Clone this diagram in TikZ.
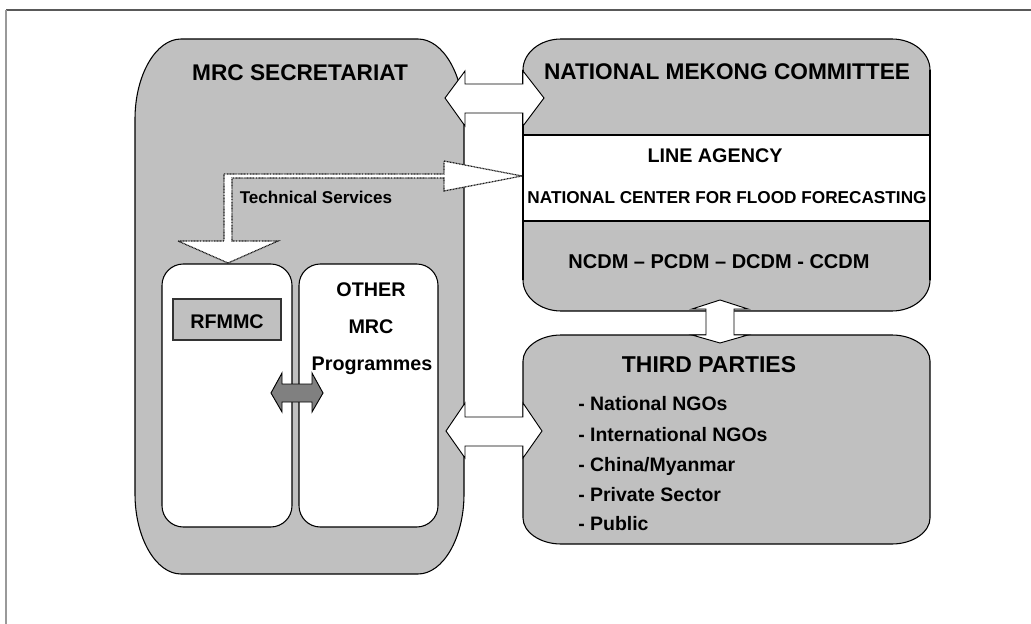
\documentclass[tikz,border=0pt]{standalone}
\usepackage{fontspec}
\setmainfont{Liberation Sans}
\definecolor{silver}{HTML}{C0C0C0}
\definecolor{midgray}{HTML}{808080}
\tikzset{
  panel/.style={fill=silver, draw=black, line width=0.8pt},
  edgeonly/.style={draw=black, line width=0.8pt},
  innerbox/.style={fill=white, draw=black, line width=0.8pt, rounded corners=16pt},
  blockarrow/.style={fill=white, draw=black, line width=0.7pt, line join=miter},
  grayarrow/.style={fill=midgray, draw=black, line width=0.7pt, line join=miter},
  svcarrow/.style={fill=white, draw=black!90, line width=0.9pt, dash pattern=on 0.7pt off 0.45pt},
  lbl/.style={inner sep=0pt, anchor=base},
  big/.style={lbl, font=\fontsize{17pt}{20pt}\selectfont\bfseries},
  mid/.style={lbl, font=\fontsize{14.8pt}{18pt}\selectfont\bfseries},
  small/.style={lbl, font=\fontsize{12.8pt}{15pt}\selectfont\bfseries},
}
\begin{document}
\begin{tikzpicture}[x=0.75pt, y=-0.75pt]
\useasboundingbox (0,0) rectangle (1031,624);

% page frame (top and left rules)
\draw[black!65, line width=1.2pt] (6,10) -- (1031,10);
\draw[black!40, line width=0.8pt] (6,10) -- (6,624);

% MRC Secretariat panel
\path[panel] (135,119) .. controls (135,75) and (156,39) .. (181,39) -- (418,39)
  .. controls (443,39) and (464,75) .. (464,119) -- (464,494)
  .. controls (464,538) and (443,574) .. (418,574) -- (181,574)
  .. controls (156,574) and (135,538) .. (135,494) -- cycle;

% National Mekong Committee panel with the white line-agency band
\path[panel] (523,70) .. controls (523,53) and (540,39) .. (561,39) -- (892,39)
  .. controls (913,39) and (930,53) .. (930,70) -- (930,280)
  .. controls (930,297) and (913,311) .. (892,311) -- (561,311)
  .. controls (540,311) and (523,297) .. (523,280) -- cycle;
\fill[white] (523,135) rectangle (930,221);
\draw[edgeonly] (523,135) -- (930,135) (523,221) -- (930,221);
\draw[edgeonly] (523,70) -- (523,280) (930,70) -- (930,280);

% Third parties panel
\path[panel] (523,361) .. controls (523,347) and (540,335) .. (561,335) -- (892,335)
  .. controls (913,335) and (930,347) .. (930,361) -- (930,518)
  .. controls (930,532) and (913,544) .. (892,544) -- (561,544)
  .. controls (540,544) and (523,532) .. (523,518) -- cycle;

% programme boxes inside the secretariat
\draw[innerbox] (162,264) rectangle (292,527);
\draw[innerbox] (299,264) rectangle (438,527);
\draw[fill=silver, draw=black!80, line width=0.8pt] (173,299) rectangle (281,340);

% exchange between RFMMC and the other programmes
\path[grayarrow] (271,393) -- (282,373) -- (282,384) -- (312,384) -- (312,373)
  -- (323,393) -- (312,412) -- (312,402) -- (282,402) -- (282,412) -- cycle;

% secretariat <-> national committee
\path[blockarrow] (445,98) -- (465,71) -- (465,84) -- (523,84) -- (523,71)
  -- (544,98) -- (523,126) -- (523,113) -- (465,113) -- (465,126) -- cycle;

% secretariat <-> third parties
\path[blockarrow] (446,431) -- (465,403) -- (465,417) -- (523,417) -- (523,403)
  -- (542,431) -- (523,458) -- (523,446) -- (465,446) -- (465,458) -- cycle;

% national committee <-> third parties
\path[blockarrow] (720,300) -- (748,309) -- (734,309) -- (734,335) -- (748,335)
  -- (720,343) -- (692,335) -- (706,335) -- (706,309) -- (692,309) -- cycle;

% technical services link (RFMMC <-> line agency)
\path[svcarrow] (224,174) -- (444,174) -- (444,161) -- (522,176) -- (444,191)
  -- (444,178) -- (232,178) -- (232,241) -- (278,241) -- (228,263)
  -- (178,241) -- (224,241) -- cycle;

% labels
\node[big] (mrc) at (300,80.5) {MRC SECRETARIAT};
\node[big] (nmc) at (727,80) {NATIONAL MEKONG COMMITTEE};
\node[mid] (line) at (715,163) {LINE AGENCY};
\node[lbl, font=\fontsize{12.9pt}{15pt}\selectfont\bfseries] (ncff) at (727,204) {NATIONAL CENTER FOR FLOOD FORECASTING};
\node[lbl, font=\fontsize{15pt}{18pt}\selectfont\bfseries] (cdm) at (719,268) {NCDM – PCDM – DCDM - CCDM};
\node[lbl, font=\fontsize{17.2pt}{20pt}\selectfont\bfseries] (tp) at (709,372) {THIRD PARTIES};
\begin{scope}[every node/.style={lbl, anchor=base west, font=\fontsize{14.6pt}{18pt}\selectfont\bfseries}]
\node (tp1) at (578,410) {- National NGOs};
\node (tp2) at (578,441) {- International NGOs};
\node (tp3) at (578,471) {- China/Myanmar};
\node (tp4) at (578,501) {- Private Sector};
\node (tp5) at (578,530) {- Public};
\end{scope}
\node[small] (ts) at (316,204) {Technical Services};
\node[mid] (rf) at (227,328) {RFMMC};
\node[mid] (oth1) at (371,296) {OTHER};
\node[mid] (oth2) at (371,333) {MRC};
\node[mid] (oth3) at (372,370) {Programmes};
\end{tikzpicture}
\end{document}
